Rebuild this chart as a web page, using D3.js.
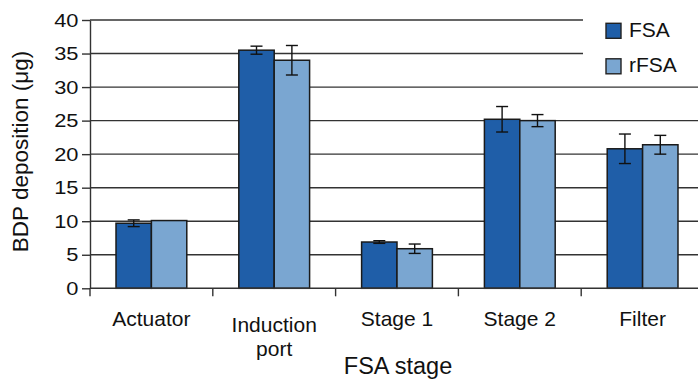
<!DOCTYPE html>
<html>
<head>
<meta charset="utf-8">
<script src="https://cdn.jsdelivr.net/npm/d3@7"></script>
<style>
  html, body { margin: 0; padding: 0; background: #fff; }
  svg { display: block; font-family: "Liberation Sans", Arial, Helvetica, sans-serif; }
</style>
</head>
<body>
<svg id="chart" width="698" height="379"></svg>
<script>
// BDP deposition per FSA stage, FSA vs rFSA (mean ± error)
const categories = ["Actuator", "Induction port", "Stage 1", "Stage 2", "Filter"];
const seriesNames = ["FSA", "rFSA"];
const fsaMeans   = [9.7, 35.5, 6.9, 25.2, 20.8];
const fsaErrors  = [0.5, 0.6, 0.2, 1.9, 2.2];
const rfsaMeans  = [10.1, 34.0, 5.9, 25.0, 21.4];
const rfsaErrors = [0, 2.2, 0.7, 0.9, 1.4];
const yTicks = [0, 5, 10, 15, 20, 25, 30, 35, 40];
const seriesColors = ["#1f5ea8", "#7aa6d1"];

const svg = d3.select("#chart");
const W = 698;
const FONT = "Liberation Sans, Arial, Helvetica, sans-serif";

const plot = { left: 90, right: 704, top: 20, bottom: 288.3 };

const x0 = d3.scaleBand().domain(categories).range([plot.left, plot.right]).padding(0);
const x1 = d3.scaleBand().domain(seriesNames).range([0, x0.bandwidth()])
  .paddingInner(0).paddingOuter(0.735);
const y = d3.scaleLinear().domain([0, 40]).range([plot.bottom, plot.top]);

const rows = categories.map((c, i) => ({
  category: c,
  values: [
    { series: "FSA", mean: fsaMeans[i], err: fsaErrors[i] },
    { series: "rFSA", mean: rfsaMeans[i], err: rfsaErrors[i] }
  ]
}));

// horizontal gridlines
svg.append("g")
  .selectAll("line")
  .data(yTicks.filter(t => t > 0))
  .join("line")
  .attr("x1", plot.left).attr("x2", W)
  .attr("y1", d => y(d)).attr("y2", d => y(d))
  .attr("stroke", "#333").attr("stroke-width", 1.4);

// legend panel sits over the top gridlines
const legend = svg.append("g");
legend.append("rect")
  .attr("x", 583).attr("y", 0).attr("width", W - 583).attr("height", 80)
  .attr("fill", "#fff");
seriesNames.forEach((s, i) => {
  const g = legend.append("g").attr("transform", `translate(606,${23.3 + i * 35.5})`);
  g.append("rect").attr("width", 15).attr("height", 15)
    .attr("fill", seriesColors[i]).attr("stroke", "#222").attr("stroke-width", 1.4);
  g.append("text").attr("x", 23).attr("y", 13.6)
    .attr("font-size", 21).attr("fill", "#111").text(s);
});

// bars
const groups = svg.append("g")
  .selectAll("g")
  .data(rows)
  .join("g")
  .attr("transform", d => `translate(${x0(d.category)},0)`);

groups.selectAll("rect")
  .data(d => d.values)
  .join("rect")
  .attr("x", d => x1(d.series))
  .attr("width", x1.bandwidth())
  .attr("y", d => y(d.mean))
  .attr("height", d => y(0) - y(d.mean))
  .attr("fill", (d, i) => seriesColors[i])
  .attr("stroke", "#1a1a1a").attr("stroke-width", 1.5);

// error bars
const eb = groups.selectAll("g.err")
  .data(d => d.values.filter(v => v.err > 0))
  .join("g").attr("class", "err")
  .attr("transform", d => `translate(${x1(d.series) + x1.bandwidth() / 2},0)`);
eb.append("line")
  .attr("y1", d => y(d.mean - d.err)).attr("y2", d => y(d.mean + d.err))
  .attr("stroke", "#111").attr("stroke-width", 1.4);
eb.selectAll("line.cap")
  .data(d => [d.mean - d.err, d.mean + d.err])
  .join("line").attr("class", "cap")
  .attr("x1", -6).attr("x2", 6)
  .attr("y1", d => y(d)).attr("y2", d => y(d))
  .attr("stroke", "#111").attr("stroke-width", 1.4);

// y axis
const yAxis = svg.append("g")
  .attr("transform", `translate(${plot.left},0)`)
  .call(d3.axisLeft(y).tickValues(yTicks).tickSize(8).tickPadding(2).tickSizeOuter(0));
yAxis.attr("font-family", FONT);
yAxis.select(".domain").attr("stroke", "#333").attr("stroke-width", 1.4);
yAxis.selectAll(".tick line").attr("stroke", "#333").attr("stroke-width", 1.4);
yAxis.selectAll(".tick text").attr("font-size", 19).attr("fill", "#111")
  .attr("transform", "scale(1.15,1)");

// x axis with category boundary ticks
const xAxisG = svg.append("g").attr("transform", `translate(0,${plot.bottom})`);
xAxisG.append("line").attr("x1", plot.left).attr("x2", W)
  .attr("stroke", "#333").attr("stroke-width", 1.4);
const bounds = categories.map(c => x0(c)).concat([plot.right]);
xAxisG.selectAll("line.tick")
  .data(bounds)
  .join("line").attr("class", "tick")
  .attr("x1", d => d).attr("x2", d => d)
  .attr("y1", 0).attr("y2", 8)
  .attr("stroke", "#333").attr("stroke-width", 1.4);

// category labels, wrapped when too wide for one line
const labelSize = 21;
categories.forEach(c => {
  const cx = x0(c) + x0.bandwidth() / 2;
  const t = svg.append("text")
    .attr("x", cx).attr("text-anchor", "middle")
    .attr("font-size", labelSize).attr("fill", "#111");
  t.text(c);
  const wide = t.node().getComputedTextLength() > 100;
  if (wide) {
    const words = c.split(" ");
    t.text(null).attr("y", 331.5);
    words.forEach((w, i) => {
      t.append("tspan").attr("x", cx).attr("dy", i === 0 ? 0 : 24).text(w);
    });
  } else {
    t.attr("y", 325.5);
  }
});

// axis titles
svg.append("text")
  .attr("transform", "translate(28,151.5) rotate(-90)")
  .attr("text-anchor", "middle").attr("font-size", 22.5).attr("fill", "#111")
  .text("BDP deposition (μg)");

svg.append("text")
  .attr("x", 398).attr("y", 373.5)
  .attr("text-anchor", "middle").attr("font-size", 23.5).attr("fill", "#111")
  .text("FSA stage");
</script>
</body>
</html>
